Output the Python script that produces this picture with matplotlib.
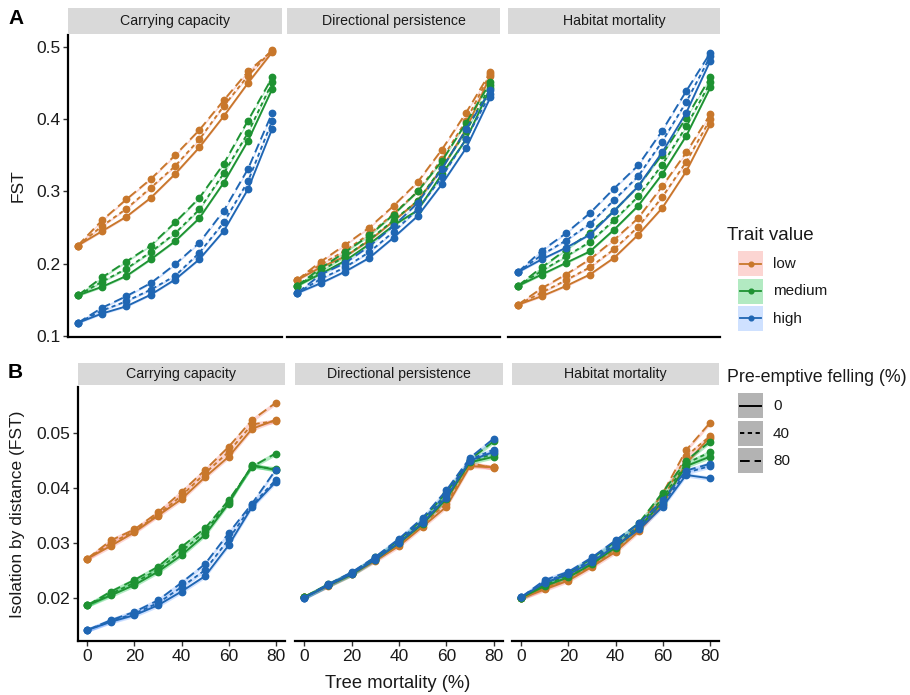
import matplotlib
matplotlib.use("Agg")
import matplotlib.pyplot as plt
from matplotlib.patches import Rectangle
from matplotlib.lines import Line2D
import numpy as np

plt.rcParams['font.family'] = ['Liberation Sans', 'DejaVu Sans']

# ---------------- data ----------------
mortality = [0, 10, 20, 30, 40, 50, 60, 70, 80]
traits = ["low", "medium", "high"]
felling = ["0", "40", "80"]
facets = ["Carrying capacity", "Directional persistence", "Habitat mortality"]

# Row A: FST ; each list = [felling 0, felling 40, felling 80]
fst_cc_low = [[0.225, 0.245, 0.265, 0.291, 0.324, 0.361, 0.404, 0.450, 0.493],
              [0.225, 0.252, 0.276, 0.305, 0.335, 0.372, 0.418, 0.460, 0.496],
              [0.225, 0.260, 0.289, 0.317, 0.350, 0.385, 0.426, 0.466, 0.495]]
fst_cc_medium = [[0.156, 0.168, 0.183, 0.206, 0.231, 0.263, 0.312, 0.370, 0.442],
                 [0.156, 0.175, 0.193, 0.216, 0.242, 0.275, 0.325, 0.381, 0.451],
                 [0.156, 0.181, 0.203, 0.225, 0.257, 0.291, 0.338, 0.398, 0.458]]
fst_cc_high = [[0.118, 0.131, 0.141, 0.157, 0.178, 0.206, 0.245, 0.303, 0.387],
               [0.118, 0.135, 0.148, 0.164, 0.183, 0.215, 0.257, 0.314, 0.398],
               [0.118, 0.139, 0.155, 0.173, 0.199, 0.229, 0.273, 0.331, 0.409]]

fst_dp_low = [[0.177, 0.195, 0.210, 0.232, 0.259, 0.287, 0.332, 0.386, 0.460],
              [0.177, 0.199, 0.218, 0.241, 0.269, 0.300, 0.345, 0.398, 0.463],
              [0.177, 0.203, 0.226, 0.250, 0.280, 0.313, 0.358, 0.409, 0.465]]
fst_dp_medium = [[0.169, 0.186, 0.204, 0.227, 0.253, 0.274, 0.324, 0.372, 0.443],
                 [0.169, 0.190, 0.210, 0.233, 0.260, 0.287, 0.333, 0.383, 0.447],
                 [0.169, 0.194, 0.216, 0.239, 0.268, 0.300, 0.342, 0.395, 0.451]]
fst_dp_high = [[0.159, 0.173, 0.189, 0.208, 0.236, 0.266, 0.310, 0.360, 0.430],
               [0.159, 0.179, 0.195, 0.216, 0.244, 0.275, 0.320, 0.373, 0.435],
               [0.159, 0.185, 0.201, 0.224, 0.252, 0.284, 0.331, 0.386, 0.440]]

fst_hm_low = [[0.143, 0.155, 0.169, 0.185, 0.208, 0.240, 0.277, 0.328, 0.393],
              [0.143, 0.160, 0.177, 0.195, 0.220, 0.251, 0.292, 0.341, 0.400],
              [0.143, 0.166, 0.185, 0.206, 0.233, 0.263, 0.307, 0.354, 0.407]]
fst_hm_medium = [[0.169, 0.185, 0.201, 0.217, 0.247, 0.280, 0.324, 0.377, 0.444],
                 [0.169, 0.190, 0.210, 0.230, 0.260, 0.293, 0.337, 0.390, 0.451],
                 [0.169, 0.195, 0.219, 0.243, 0.273, 0.307, 0.351, 0.402, 0.458]]
fst_hm_high = [[0.188, 0.206, 0.222, 0.240, 0.273, 0.307, 0.354, 0.409, 0.481],
               [0.188, 0.212, 0.232, 0.255, 0.288, 0.321, 0.369, 0.424, 0.487],
               [0.188, 0.218, 0.242, 0.270, 0.304, 0.336, 0.384, 0.439, 0.492]]

# Row B: isolation by distance
ibd_cc_low = [[0.0272, 0.0295, 0.0320, 0.0350, 0.0380, 0.0420, 0.0457, 0.0508, 0.0524],
              [0.0272, 0.0300, 0.0322, 0.0352, 0.0386, 0.0427, 0.0466, 0.0516, 0.0522],
              [0.0272, 0.0305, 0.0325, 0.0356, 0.0393, 0.0433, 0.0475, 0.0524, 0.0555]]
ibd_cc_medium = [[0.0187, 0.0205, 0.0224, 0.0248, 0.0278, 0.0315, 0.0372, 0.0442, 0.0433],
                 [0.0187, 0.0208, 0.0228, 0.0252, 0.0285, 0.0321, 0.0375, 0.0440, 0.0435],
                 [0.0187, 0.0212, 0.0233, 0.0257, 0.0293, 0.0327, 0.0378, 0.0439, 0.0463]]
ibd_cc_high = [[0.0142, 0.0157, 0.0169, 0.0187, 0.0212, 0.0240, 0.0296, 0.0366, 0.0411],
               [0.0142, 0.0158, 0.0172, 0.0191, 0.0220, 0.0251, 0.0307, 0.0369, 0.0415],
               [0.0142, 0.0160, 0.0175, 0.0196, 0.0228, 0.0262, 0.0318, 0.0372, 0.0433]]

ibd_dp_low = [[0.0202, 0.0222, 0.0243, 0.0268, 0.0295, 0.0330, 0.0366, 0.0440, 0.0438],
              [0.0202, 0.0223, 0.0244, 0.0270, 0.0298, 0.0334, 0.0372, 0.0443, 0.0438],
              [0.0202, 0.0224, 0.0245, 0.0271, 0.0300, 0.0337, 0.0378, 0.0446, 0.0436]]
ibd_dp_medium = [[0.0202, 0.0223, 0.0243, 0.0270, 0.0300, 0.0335, 0.0380, 0.0447, 0.0457],
                 [0.0202, 0.0224, 0.0245, 0.0272, 0.0303, 0.0339, 0.0386, 0.0450, 0.0462],
                 [0.0202, 0.0225, 0.0246, 0.0274, 0.0306, 0.0343, 0.0392, 0.0452, 0.0485]]
ibd_dp_high = [[0.0201, 0.0223, 0.0244, 0.0270, 0.0301, 0.0337, 0.0383, 0.0450, 0.0466],
               [0.0201, 0.0224, 0.0246, 0.0273, 0.0305, 0.0341, 0.0390, 0.0452, 0.0470],
               [0.0201, 0.0225, 0.0247, 0.0275, 0.0308, 0.0346, 0.0396, 0.0455, 0.0490]]

ibd_hm_low = [[0.0200, 0.0216, 0.0232, 0.0257, 0.0284, 0.0322, 0.0370, 0.0445, 0.0492],
              [0.0200, 0.0218, 0.0235, 0.0260, 0.0288, 0.0327, 0.0380, 0.0458, 0.0494],
              [0.0200, 0.0220, 0.0238, 0.0263, 0.0292, 0.0332, 0.0390, 0.0469, 0.0518]]
ibd_hm_medium = [[0.0201, 0.0222, 0.0238, 0.0262, 0.0292, 0.0328, 0.0375, 0.0440, 0.0457],
                 [0.0201, 0.0224, 0.0242, 0.0266, 0.0297, 0.0332, 0.0382, 0.0445, 0.0465],
                 [0.0201, 0.0226, 0.0246, 0.0272, 0.0303, 0.0337, 0.0392, 0.0450, 0.0484]]
ibd_hm_high = [[0.0202, 0.0228, 0.0243, 0.0266, 0.0295, 0.0325, 0.0366, 0.0424, 0.0418],
               [0.0202, 0.0230, 0.0246, 0.0270, 0.0300, 0.0330, 0.0372, 0.0428, 0.0440],
               [0.0202, 0.0233, 0.0248, 0.0274, 0.0305, 0.0336, 0.0378, 0.0432, 0.0444]]

# ribbon half-widths (confidence bands)
fst_band = 0.0015
ibd_band = 0.0004

fst_ticks = [0.1, 0.2, 0.3, 0.4, 0.5]
ibd_ticks = [0.02, 0.03, 0.04, 0.05]
x_ticks = [0, 20, 40, 60, 80]

# ---------------- styles ----------------
line_colors = {"low": "#C8772B", "medium": "#1E9232", "high": "#1F66B3"}
fill_colors = {"low": "#F8766D", "medium": "#00BA38", "high": "#619CFF"}
dash_styles = {"0": "-", "40": (0, (2.2, 1.8)), "80": (0, (5, 2.5))}

rows = [
    {"data": [[fst_cc_low, fst_cc_medium, fst_cc_high],
              [fst_dp_low, fst_dp_medium, fst_dp_high],
              [fst_hm_low, fst_hm_medium, fst_hm_high]],
     "band": fst_band, "ylim": (0.0985, 0.5165), "ticks": fst_ticks,
     "fmt": "{:.1f}", "cols": [(68, 282), (287, 500), (508, 720)],
     "top": 35, "bottom": 337, "strip": (8, 34)},
    {"data": [[ibd_cc_low, ibd_cc_medium, ibd_cc_high],
              [ibd_dp_low, ibd_dp_medium, ibd_dp_high],
              [ibd_hm_low, ibd_hm_medium, ibd_hm_high]],
     "band": ibd_band, "ylim": (0.0122, 0.0584), "ticks": ibd_ticks,
     "fmt": "{:.2f}", "cols": [(78, 285), (295, 503), (512, 719)],
     "top": 387, "bottom": 641, "strip": (363, 385)},
]

W, H = 910, 695
fig = plt.figure(figsize=(W / 100, H / 100), dpi=100)


def rect(l, r, t, b):
    return [l / W, 1 - b / H, (r - l) / W, (b - t) / H]


text_col = "#1A1A1A"
for ri, row in enumerate(rows):
    for ci, (l, r) in enumerate(row["cols"]):
        ax = fig.add_axes(rect(l, r, row["top"], row["bottom"]))
        for ti, trait in enumerate(traits):
            series = row["data"][ci][ti]
            for fi, fl in enumerate(felling):
                y = np.array(series[fi])
                ax.fill_between(mortality, y - row["band"], y + row["band"],
                                color=fill_colors[trait], alpha=0.3, lw=0, zorder=1)
        for ti, trait in enumerate(traits):
            series = row["data"][ci][ti]
            for fi, fl in enumerate(felling):
                ax.plot(mortality, series[fi], color=line_colors[trait],
                        linestyle=dash_styles[fl], lw=1.35, marker="o",
                        markersize=4.6, zorder=3)
        ax.set_xlim(-4, 84)
        ax.set_ylim(*row["ylim"])
        for s in ["top", "right"]:
            ax.spines[s].set_visible(False)
        ax.spines["bottom"].set_linewidth(1.6)
        ax.spines["left"].set_linewidth(1.6)
        ax.tick_params(axis="both", colors="#333333", labelcolor=text_col,
                       labelsize=12.5, length=3.5, width=1.0, pad=2)
        if ci == 0:
            ax.set_yticks(row["ticks"])
            ax.set_yticklabels([row["fmt"].format(t) for t in row["ticks"]])
        else:
            ax.spines["left"].set_visible(False)
            ax.set_yticks([])
        if ri == 0:
            ax.set_xticks([])
        else:
            ax.set_xticks(x_ticks)
            ax.set_xticklabels([str(t) for t in x_ticks])
        # strip
        st, sb = row["strip"]
        fig.add_artist(Rectangle((l / W, 1 - sb / H), (r - l) / W, (sb - st) / H,
                                 transform=fig.transFigure, facecolor="#D9D9D9",
                                 edgecolor="none"))
        fig.text((l + r) / 2 / W, 1 - (st + sb) / 2 / H, facets[ci],
                 ha="center", va="center", fontsize=10.2, color=text_col)

# axis titles
fig.text(18 / W, 1 - 186 / H, "FST", rotation=90, ha="center", va="center",
         fontsize=12.5, color=text_col)
fig.text(18 / W, 1 - 514 / H, "Isolation by distance (FST)", rotation=90,
         ha="center", va="center", fontsize=12.5, color=text_col)
fig.text(398 / W, 1 - 683 / H, "Tree mortality (%)", ha="center", va="center",
         fontsize=13.2, color=text_col)
fig.text(8 / W, 1 - 18 / H, "A", ha="left", va="center", fontsize=15,
         fontweight="bold", color="black")
fig.text(8 / W, 1 - 373 / H, "B", ha="left", va="center", fontsize=15,
         fontweight="bold", color="black")

# legends
fig.text(727 / W, 1 - 236 / H, "Trait value", ha="left", va="center",
         fontsize=13.5, color=text_col)
for i, trait in enumerate(traits):
    t = 251 + i * 27.5
    fig.add_artist(Rectangle((738 / W, 1 - (t + 25) / H), 25 / W, 25 / H,
                             transform=fig.transFigure, facecolor=fill_colors[trait],
                             alpha=0.3, edgecolor="none"))
    fig.add_artist(Line2D([740 / W, 761 / W], [1 - (t + 12.5) / H] * 2,
                          transform=fig.transFigure, color=line_colors[trait], lw=1.3))
    fig.add_artist(Line2D([750.5 / W], [1 - (t + 12.5) / H], transform=fig.transFigure,
                          color=line_colors[trait], marker="o", markersize=3.4, lw=0))
    fig.text(773 / W, 1 - (t + 13) / H, trait, ha="left", va="center",
             fontsize=11, color=text_col)

fig.text(727 / W, 1 - 378 / H, "Pre-emptive felling (%)", ha="left", va="center",
         fontsize=12.8, color=text_col)
for i, fl in enumerate(felling):
    t = 393 + i * 27.5
    fig.add_artist(Rectangle((738 / W, 1 - (t + 25) / H), 25 / W, 25 / H,
                             transform=fig.transFigure, facecolor="#B3B3B3",
                             edgecolor="none"))
    fig.add_artist(Line2D([740 / W, 761 / W], [1 - (t + 12.5) / H] * 2,
                          transform=fig.transFigure, color="black", lw=1.4,
                          linestyle=dash_styles[fl]))
    fig.text(773 / W, 1 - (t + 13) / H, fl, ha="left", va="center",
             fontsize=11, color=text_col)

fig.savefig("out.png", dpi=100)
